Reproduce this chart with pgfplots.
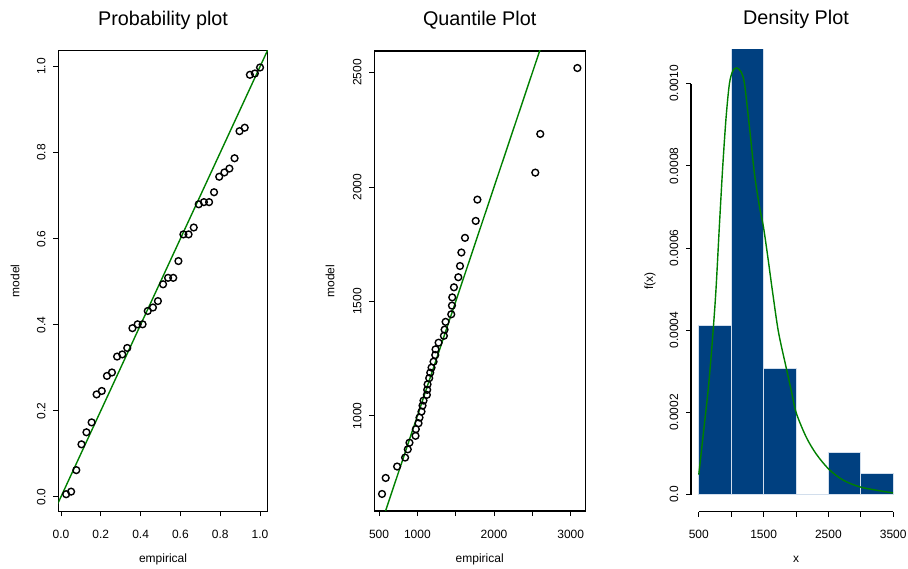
\documentclass[border=0pt]{standalone}
\usepackage{fontspec}
\setmainfont{Liberation Sans}
\usepackage{pgfplots}
\pgfplotsset{compat=1.18}
\definecolor{rgreen}{RGB}{0,128,0}
\definecolor{barblue}{RGB}{0,64,128}
\definecolor{barborder}{RGB}{210,222,236}

\pgfplotsset{
  rstyle/.style={
    scale only axis, anchor=south west,
    tick align=outside, major tick length=5pt,
    xtick pos=bottom, ytick pos=left,
    every tick/.style={black, line width=0.9pt},
    axis line style={line width=1.1pt},
    tick label style={font=\fontsize{12}{12}\selectfont},
    label style={font=\fontsize{12}{12}\selectfont},
    title style={font=\fontsize{19.8}{20}\selectfont, anchor=base},
    xticklabel style={anchor=center, yshift=-18pt},
    yticklabel style={xshift=-12pt, rotate=90, anchor=center},
    xlabel style={anchor=base},
    ylabel style={anchor=center},
    scaled ticks=false,
  },
  rmarks/.style={only marks, mark=o, mark size=3.4pt, black,
    mark options={line width=1.4pt, draw=black}},
}

\begin{document}
\begin{tikzpicture}
\path[use as bounding box] (0,0) rectangle (908pt,568pt);

% ---------------- Probability plot ----------------
\begin{axis}[rstyle, at={(58.3pt,56.7pt)}, width=209.5pt, height=460.9pt,
  xmin=-0.0134, xmax=1.039, ymin=-0.0337, ymax=1.0377,
  xtick={0,0.2,0.4,0.6,0.8,1}, xticklabels={0.0,0.2,0.4,0.6,0.8,1.0},
  ytick={0,0.2,0.4,0.6,0.8,1}, yticklabels={0.0,0.2,0.4,0.6,0.8,1.0},
  title={Probability plot}, title style={at={(0.5,1.0415)}},
  xlabel={empirical}, xlabel style={at={(axis description cs:0.5,-0.111)}},
  ylabel={model}, ylabel style={at={(axis description cs:-0.2067,0.5)}},
]
\addplot[rmarks] coordinates {
(0.026,0.006) (0.051,0.012) (0.077,0.062) (0.103,0.122) (0.128,0.150)
(0.154,0.173) (0.179,0.238) (0.205,0.246) (0.231,0.281) (0.256,0.289)
(0.282,0.326) (0.308,0.331) (0.333,0.346) (0.359,0.392) (0.385,0.401)
(0.410,0.401) (0.436,0.432) (0.462,0.440) (0.487,0.455) (0.513,0.494)
(0.538,0.509) (0.564,0.509) (0.590,0.548) (0.615,0.610) (0.641,0.610)
(0.667,0.626) (0.692,0.680) (0.718,0.685) (0.744,0.685) (0.769,0.708)
(0.795,0.744) (0.821,0.754) (0.846,0.763) (0.872,0.787) (0.897,0.850)
(0.923,0.858) (0.949,0.981) (0.974,0.984) (1.000,0.998)};
\addplot[rgreen, line width=1.4pt] coordinates {(-0.1,-0.1) (1.1,1.1)};
\end{axis}

% ---------------- Quantile plot ----------------
\begin{axis}[rstyle, at={(374.2pt,57pt)}, width=211pt, height=460pt,
  xmin=437, xmax=3189, ymin=584.6, ymax=2594.4,
  xtick={500,1000,1500,2000,2500,3000}, xticklabels={500,1000,,2000,,3000},
  ytick={1000,1500,2000,2500}, yticklabels={1000,1500,2000,2500},
  title={Quantile Plot}, title style={at={(0.5,1.0415)}},
  xlabel={empirical}, xlabel style={at={(axis description cs:0.5,-0.111)}},
  ylabel={model}, ylabel style={at={(axis description cs:-0.2095,0.5)}},
]
\addplot[rmarks] coordinates {
(539,659) (587,729) (736,779) (840,818) (875,854) (897,883) (976,913)
(980,942) (1015,968) (1028,993) (1054,1019) (1067,1045) (1080,1067)
(1124,1092) (1128,1114) (1133,1138) (1154,1165) (1168,1189) (1185,1211)
(1211,1237) (1233,1266) (1237,1291) (1277,1320) (1346,1350) (1355,1377)
(1368,1411) (1442,1444) (1451,1482) (1455,1518) (1477,1562) (1534,1606)
(1556,1655) (1574,1714) (1621,1778) (1761,1852) (1783,1945) (2538,2063)
(2603,2232) (3087,2520)};
\addplot[rgreen, line width=1.4pt] coordinates {(300,300) (3300,3300)};
\end{axis}

% ---------------- Density plot ----------------
\begin{axis}[rstyle, at={(691pt,56.3pt)}, width=210pt, height=461.7pt,
  clip mode=individual,
  axis line style={draw=none},
  xmin=380, xmax=3620, ymin=-4.16e-5, ymax=1.0816e-3,
  xtick={500,1000,1500,2000,2500,3000,3500}, xticklabels={500,,1500,,2500,,3500},
  ytick={0,0.0002,0.0004,0.0006,0.0008,0.001},
  yticklabels={0.0,0.0002,0.0004,0.0006,0.0008,0.0010},
  title={Density Plot}, title style={at={(0.5,1.0415)}},
  xlabel={x}, xlabel style={at={(axis description cs:0.5,-0.111)}},
  ylabel={f(x)}, ylabel style={at={(axis description cs:-0.195,0.5)}},
]
\addplot[ybar interval, fill=barblue, draw=barborder, line width=0.9pt] coordinates {
(500,4.103e-4) (1000,1.128e-3) (1500,3.077e-4) (2000,0) (2500,1.026e-4) (3000,5.13e-5) (3500,0)};
\addplot[rgreen, line width=1.4pt, smooth] coordinates {
(500,4.87e-5) (587,1.72e-4) (645,2.55e-4) (700,3.55e-4) (762,4.90e-4)
(820,6.60e-4) (870,7.99e-4) (922,9.19e-4) (973,1.000e-3) (1025,1.031e-3)
(1087,1.038e-3) (1153,1.028e-3) (1205,1.000e-3) (1282,8.94e-4)
(1359,7.81e-4) (1437,7.00e-4) (1498,6.51e-4) (1565,5.78e-4)
(1642,4.89e-4) (1730,3.95e-4) (1854,3.05e-4) (1931,2.50e-4)
(2003,1.99e-4) (2157,1.40e-4) (2311,9.9e-5) (2502,6.25e-5)
(2723,3.57e-5) (3006,1.79e-5) (3495,4.1e-6)};
\draw[black, line width=1.1pt] (axis cs:380,0) -- (axis cs:380,0.001);
\draw[black, line width=1.1pt] (axis cs:500,-4.16e-5) -- (axis cs:3500,-4.16e-5);
\end{axis}
\end{tikzpicture}
\end{document}
